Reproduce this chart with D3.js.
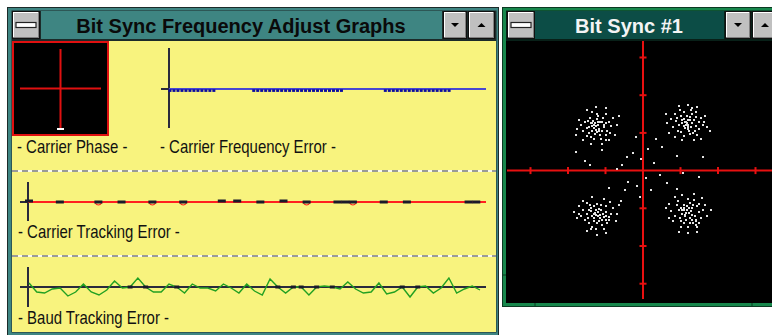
<!DOCTYPE html>
<html><head><meta charset="utf-8">
<script src="https://cdn.jsdelivr.net/npm/d3@7"></script>
<style>body{margin:0;background:#fff;}svg{display:block;}</style>
</head><body>
<script>
// ---------------- DATA ----------------
const leftTitle = "Bit Sync Frequency Adjust Graphs";
const rightTitle = "Bit Sync #1";
const panelLabels = ["- Carrier Phase -", "- Carrier Frequency Error -", "- Carrier Tracking Error -", "- Baud Tracking Error -"];

// carrier phase indicator (phase point, normalized)
const phasePoint = [0, -1];

// carrier frequency error samples
const freqErr = [-1,-1,-1,-1,-1,-1,-1,-1,-1,-1,-1,-1,
  0,0,0,0,0,0,0,0,0,
  -1,-1,-1,-1,-1,-1,-1,-1,-1,-1,-1,-1,-1,-1,-1,-1,-1,-1,-1,-1,-1,-1,-1,
  0,0,0,0,0,0,0,0,0,0,
  -1,-1,-1,-1,-1,-1,-1,-1,-1,-1,-1,-1,-1,-1,-1,-1,-1,
  0,0,0,0,0,0,0,0,0];

// carrier tracking error samples
const trackErr = [1,0,0,0,-1,0,0,0,0,-3,0,0,-1,0,0,0,-3,0,0,0,-3,0,0,0,0,1,0,1,0,0,
  -1,0,0,1,0,0,-3,0,0,0,-1,-1,-3,0,0,0,-1,0,0,-1,0,0,0,0,0,0,0,-1,-1,0];

// baud tracking error samples
const baudErr = [4,-5,-6,-2,-1,-9,-5,3,-5,-8,-3,6,-1,0,9,0,-5,-5,3,0,-6,3,-1,-1,-4,3,-1,-6,3,-4,
  -8,8,0,-6,0,0,-8,0,1,0,-2,5,-2,-6,-5,4,-7,-5,0,-10,0,1,-6,-1,9,-6,-2,1,-3];

// constellation ticks
const constTicks = [-3,-2,-1,1,2,3];
// constellation points (I, Q)
const constPts = [
 [-1.25,1.18],[-1.3,1.22],[-1.18,1.1],[-1.35,1.05],[-1.1,1.3],[-1.4,1.25],[-1.22,1.38],[-1.05,1.15],[-1.5,1.12],[-1.28,0.98],
 [-1.15,0.95],[-1.45,1.0],[-1.0,1.25],[-1.33,1.32],[-1.2,1.45],[-0.95,1.05],[-1.55,1.3],[-1.38,0.9],[-1.08,1.4],[-1.26,1.08],
 [-1.19,1.2],[-1.31,1.14],[-0.9,1.3],[-1.6,1.05],[-1.12,0.85],[-1.42,1.4],[-1.0,0.95],[-1.24,1.5],[-0.85,1.18],[-1.5,0.92],
 [-1.35,1.18],[-1.16,1.28],[-1.27,1.25],[-1.22,1.02],[-0.8,1.4],[-1.65,1.2],[-1.1,1.05],[-1.3,0.85],[-0.98,1.5],[-1.45,1.15],
 [-1.75,1.1],[-1.7,1.35],[-0.7,1.2],[-0.75,0.95],[-1.25,1.7],[-1.0,1.65],[-1.5,1.6],[-1.4,0.7],[-1.1,0.7],[-0.65,1.45],
 [-1.8,0.95],[-1.6,0.8],[-0.9,0.8],[-1.35,1.55],[-1.05,1.2],[-1.2,1.28],[-1.37,1.25],[-1.17,1.05],[-1.48,1.32],[-0.88,1.0],
 [1.15,1.3],[1.2,1.22],[1.1,1.38],[1.28,1.15],[1.05,1.25],[1.35,1.35],[1.18,1.45],[0.95,1.2],[1.42,1.18],[1.22,1.05],
 [1.0,1.45],[1.3,1.5],[1.12,1.12],[0.88,1.32],[1.48,1.28],[1.25,0.98],[1.08,1.55],[1.38,1.05],[0.8,1.15],[1.55,1.4],
 [1.17,1.27],[1.2,1.35],[1.14,1.2],[0.92,1.05],[1.45,0.95],[1.3,1.25],[1.02,1.02],[1.6,1.2],[0.75,1.38],[1.25,1.42],
 [1.1,0.92],[1.4,1.55],[0.98,1.6],[1.33,1.0],[1.19,1.15],[1.62,1.3],[1.05,1.35],[0.85,1.5],[1.5,1.1],[1.28,1.6],
 [1.7,1.15],[1.65,1.45],[0.65,1.25],[0.7,1.0],[1.2,1.75],[0.95,1.72],[1.45,1.7],[1.35,0.8],[1.05,0.82],[0.6,1.5],
 [1.78,1.05],[1.55,0.85],[0.85,0.9],[1.3,1.65],[1.2,1.1],[1.13,1.3],[1.24,1.33],[1.1,1.18],[1.42,1.42],[0.9,1.4],
 [-1.2,-1.1],[-1.25,-1.18],[-1.12,-1.05],[-1.35,-1.2],[-1.05,-1.22],[-1.4,-1.0],[-1.18,-1.35],[-0.98,-1.1],[-1.5,-1.15],[-1.3,-0.95],
 [-1.1,-1.45],[-1.45,-1.4],[-0.9,-1.3],[-1.6,-1.05],[-1.22,-0.88],[-1.0,-0.95],[-1.35,-1.5],[-1.15,-1.25],[-0.85,-1.15],[-1.55,-1.3],
 [-1.28,-1.12],[-1.2,-1.2],[-1.08,-1.15],[-1.42,-0.9],[-0.95,-1.4],[-1.3,-1.35],[-1.65,-1.2],[-1.12,-0.92],[-1.25,-1.55],[-0.8,-1.0],
 [-1.38,-1.08],[-1.05,-1.55],[-1.5,-0.85],[-1.18,-1.02],[-0.92,-1.22],[-1.48,-1.25],[-1.22,-1.4],[-1.32,-1.25],[-1.0,-1.3],[-1.7,-1.15],
 [-1.75,-1.25],[-1.7,-0.95],[-0.7,-1.15],[-0.72,-1.35],[-1.22,-1.7],[-0.98,-1.65],[-1.5,-1.6],[-1.35,-0.7],[-1.05,-0.75],[-0.65,-0.9],
 [-1.85,-1.1],[-1.6,-0.8],[-0.88,-0.82],[-1.4,-1.55],[-1.15,-1.18],[-1.25,-1.05],[-1.1,-1.3],[-1.3,-1.15],[-1.0,-1.2],[-1.45,-1.05],
 [1.17,-1.05],[1.22,-1.12],[1.1,-0.98],[1.3,-1.0],[1.05,-1.15],[1.38,-1.2],[1.15,-1.3],[0.95,-1.05],[1.45,-0.95],[1.25,-0.85],
 [1.0,-1.35],[1.32,-1.4],[1.08,-0.9],[0.85,-1.2],[1.5,-1.1],[1.2,-1.5],[0.9,-0.92],[1.42,-1.3],[1.12,-1.2],[1.28,-1.08],
 [1.35,-0.78],[1.18,-0.95],[0.8,-1.35],[1.55,-1.25],[1.02,-1.5],[1.4,-1.45],[1.25,-1.25],[0.92,-0.8],[1.1,-1.4],[1.48,-0.88],
 [1.3,-1.18],[1.2,-0.75],[0.75,-1.08],[1.6,-1.05],[1.15,-1.12],[1.33,-0.92],[0.98,-1.25],[1.45,-1.5],[1.08,-1.05],[1.25,-1.38],
 [1.7,-1.2],[1.65,-0.9],[0.68,-1.25],[0.7,-0.88],[1.2,-1.65],[0.95,-1.62],[1.45,-1.62],[1.35,-0.62],[1.05,-0.65],[0.62,-1.0],
 [1.8,-1.05],[1.58,-0.72],[0.85,-0.7],[1.4,-1.35],[1.22,-1.0],[1.13,-1.18],[1.05,-1.05],[1.3,-1.3],[1.0,-0.98],[1.5,-1.4],
 [-0.27,0.47],[-0.43,0.36],[-1.0,0.8],[-1.1,0.55],[-1.41,0.15],[-1.55,0.25],[-0.4,-0.3],[-0.48,-0.52],[-0.08,-0.7],[0.08,-0.2],
 [0.21,-0.52],[0.45,-0.12],[0.65,-0.33],[1.07,-0.07],[1.5,-0.18],[-0.7,0.05],[0.5,0.62],[0.35,0.85],[-0.2,0.9],[-0.55,0.15],
 [0.9,0.4],[1.6,0.35],[-0.9,-0.45],[-0.15,-0.4],[0.3,0.2],[-0.05,0.3],[0.9,-0.5],[-1.8,0.5],[-0.6,-0.8],[0.12,0.58]
];

// ---------------- DRAW ----------------
const W = 772, H = 335;
const svg = d3.select("body").append("svg").attr("width", W).attr("height", H);
svg.append("rect").attr("width", W).attr("height", H).attr("fill", "#fff");

const TEAL = "#3e8582", DTEAL = "#0c4d46", GREEN = "#17874c", YEL = "#f8f37e",
      GRAY = "#c0c0c0", AX = "#2a2a3c";
const FONT = "'Liberation Sans', Arial, sans-serif";

function button(x, y, w, h, kind) {
  const g = svg.append("g");
  g.append("rect").attr("x", x).attr("y", y).attr("width", w).attr("height", h).attr("fill", "#111");
  g.append("rect").attr("x", x + 1).attr("y", y + 1).attr("width", w - 2).attr("height", h - 2).attr("fill", "#808080");
  g.append("rect").attr("x", x + 1).attr("y", y + 1).attr("width", w - 3).attr("height", h - 3).attr("fill", "#fff");
  g.append("rect").attr("x", x + 2).attr("y", y + 2).attr("width", w - 4).attr("height", h - 4).attr("fill", GRAY);
  const cx = x + w / 2, cy = y + h / 2;
  if (kind === "down") g.append("path").attr("d", `M${cx-4},${cy-2}L${cx+4},${cy-2}L${cx},${cy+2}Z`).attr("fill", "#000");
  if (kind === "up") g.append("path").attr("d", `M${cx-4},${cy+2}L${cx+4},${cy+2}L${cx},${cy-2}Z`).attr("fill", "#000");
  if (kind === "sys") {
    g.append("rect").attr("x", cx - 10).attr("y", cy - 2.5).attr("width", 20).attr("height", 5)
      .attr("fill", "#fff").attr("stroke", "#222").attr("stroke-width", 1.2);
  }
}

// ---------- left window ----------
svg.append("rect").attr("x", 7.5).attr("y", 7.5).attr("width", 491).attr("height", 332).attr("fill", TEAL).attr("stroke", "#1c2b2a");
svg.append("rect").attr("x", 11.5).attr("y", 10.5).attr("width", 485).attr("height", 322).attr("fill", "#1c2b2a");
svg.append("rect").attr("x", 41).attr("y", 11).attr("width", 401).attr("height", 28).attr("fill", TEAL);
button(12, 11, 28, 28, "sys");
button(443, 11, 24, 28, "down");
button(468, 11, 27, 28, "up");
svg.append("text").attr("x", 241).attr("y", 33).attr("text-anchor", "middle")
  .attr("font-family", FONT).attr("font-weight", "bold").attr("font-size", 20).attr("fill", "#0a0a0a").text(leftTitle);
svg.append("rect").attr("x", 12).attr("y", 41).attr("width", 484).attr("height", 291).attr("fill", YEL);

// separators
[171, 256].forEach(yy => {
  svg.append("line").attr("x1", 12).attr("x2", 496).attr("y1", yy).attr("y2", yy).attr("stroke", "#fafaf0").attr("stroke-width", 2);
  svg.append("line").attr("x1", 12).attr("x2", 496).attr("y1", yy).attr("y2", yy).attr("stroke", "#9a9a98")
    .attr("stroke-width", 2).attr("stroke-dasharray", "6,4");
});

// labels
function label(x, y, t) {
  svg.append("text").attr("transform", `translate(${x},${y}) scale(0.83,1)`)
    .attr("font-family", FONT).attr("font-size", 18).attr("fill", "#111").text(t);
}
label(17, 153, panelLabels[0]);
label(160, 153, panelLabels[1]);
label(18, 238, panelLabels[2]);
label(18, 324, panelLabels[3]);

// ---- carrier phase ----
{
  const x = d3.scaleLinear([-1, 1], [20, 101]);
  const y = d3.scaleLinear([-1, 1], [128, 49]);
  svg.append("rect").attr("x", 13).attr("y", 42).attr("width", 95).attr("height", 93)
    .attr("fill", "#000").attr("stroke", "#e01010").attr("stroke-width", 2);
  svg.append("line").attr("x1", x(-1)).attr("x2", x(1)).attr("y1", y(0)).attr("y2", y(0)).attr("stroke", "#e01010").attr("stroke-width", 2);
  svg.append("line").attr("x1", x(0)).attr("x2", x(0)).attr("y1", y(1)).attr("y2", y(-1)).attr("stroke", "#e01010").attr("stroke-width", 2);
  svg.append("rect").attr("x", x(phasePoint[0]) - 3.5).attr("y", y(phasePoint[1])).attr("width", 7).attr("height", 2).attr("fill", "#fff");
}

// ---- carrier frequency error ----
{
  const x = d3.scaleLinear([0, freqErr.length - 1], [170, 485]);
  const y = d3.scaleLinear([-20, 20], [119, 59]);
  svg.append("line").attr("x1", 169).attr("x2", 169).attr("y1", 48).attr("y2", 128).attr("stroke", AX).attr("stroke-width", 2);
  svg.append("line").attr("x1", 161).attr("x2", 486).attr("y1", y(0)).attr("y2", y(0)).attr("stroke", AX).attr("stroke-width", 2);
  svg.append("line").attr("x1", 169).attr("x2", 486).attr("y1", y(0)).attr("y2", y(0)).attr("stroke", "#4848d0").attr("stroke-width", 2);
  svg.append("g").selectAll("rect").data(freqErr.map((v, i) => [i, v]).filter(d => d[1] !== 0)).join("rect")
    .attr("x", d => x(d[0]) - 1.5).attr("y", d => y(d[1]) - 1.2).attr("width", 3).attr("height", 2.6).attr("fill", "#0c0ca0");
}

// ---- carrier tracking error ----
{
  const x = d3.scaleLinear([0, trackErr.length - 1], [29, 484]);
  const y = d3.scaleLinear([-20, 20], [222, 182]);
  svg.append("line").attr("x1", 28).attr("x2", 28).attr("y1", 182).attr("y2", 221).attr("stroke", AX).attr("stroke-width", 2);
  svg.append("line").attr("x1", 20).attr("x2", 486).attr("y1", y(0)).attr("y2", y(0)).attr("stroke", AX).attr("stroke-width", 2);
  svg.append("line").attr("x1", 28).attr("x2", 486).attr("y1", y(0)).attr("y2", y(0)).attr("stroke", "#ff2020").attr("stroke-width", 2);
  const pts = trackErr.map((v, i) => [i, v]).filter(d => d[1] !== 0);
  svg.append("g").selectAll("path").data(pts.filter(d => d[1] < -1)).join("path")
    .attr("d", d => `M${x(d[0]) - 4},${y(0)} Q${x(d[0])},${y(d[1]) + 3} ${x(d[0]) + 4},${y(0)}`)
    .attr("fill", "none").attr("stroke", "#ff2020").attr("stroke-width", 1.2);
  svg.append("g").selectAll("rect").data(pts).join("rect")
    .attr("x", d => x(d[0]) - 4).attr("y", d => y(0) - 1.5 - (d[1] > 0 ? 1 : 0)).attr("width", 8).attr("height", 3).attr("fill", "#1a1a2a");
}

// ---- baud tracking error ----
{
  const x = d3.scaleLinear([0, baudErr.length - 1], [29, 480]);
  const y = d3.scaleLinear([-20, 20], [307, 267]);
  svg.append("line").attr("x1", 28).attr("x2", 28).attr("y1", 267).attr("y2", 307).attr("stroke", AX).attr("stroke-width", 2);
  svg.append("line").attr("x1", 20).attr("x2", 486).attr("y1", y(0)).attr("y2", y(0)).attr("stroke", AX).attr("stroke-width", 2);
  svg.append("path").datum(baudErr).attr("fill", "none").attr("stroke", "#22a022").attr("stroke-width", 1.4)
    .attr("d", d3.line().x((d, i) => x(i)).y(d => y(d)));
  svg.append("g").selectAll("rect").data(baudErr.map((v, i) => [i, v]).filter(d => d[1] === 0)).join("rect")
    .attr("x", d => x(d[0]) - 2.5).attr("y", y(0) - 1.5).attr("width", 5).attr("height", 3).attr("fill", "#1a1a2a");
}

// ---------- right window ----------
svg.append("rect").attr("x", 502.5).attr("y", 7.5).attr("width", 280).attr("height", 299).attr("fill", GREEN).attr("stroke", "#0c3a22");
svg.append("rect").attr("x", 506).attr("y", 10.5).attr("width", 270).attr("height", 292.5).attr("fill", "#082018");
svg.append("rect").attr("x", 535).attr("y", 11).attr("width", 189).attr("height", 28).attr("fill", DTEAL);
button(507, 11, 28, 28, "sys");
button(725, 11, 26, 28, "down");
button(752, 11, 26, 28, "up");
svg.append("text").attr("x", 629).attr("y", 33).attr("text-anchor", "middle")
  .attr("font-family", FONT).attr("font-weight", "bold").attr("font-size", 20).attr("fill", "#f4f4f4").text(rightTitle);
svg.append("rect").attr("x", 506).attr("y", 41).attr("width", 270).attr("height", 262).attr("fill", "#000");
// frame notches
[[535, 303, 535, 307], [752, 303, 752, 307], [502, 275, 506, 275]].forEach(l =>
  svg.append("line").attr("x1", l[0]).attr("y1", l[1]).attr("x2", l[2]).attr("y2", l[3]).attr("stroke", "#0c3a22"));

{
  const x = d3.scaleLinear([-3, 3], [530.5, 755.5]);
  const y = d3.scaleLinear([-3, 3], [283.7, 57.5]);
  const RED = "#e81010";
  svg.append("line").attr("x1", 507).attr("x2", 772).attr("y1", y(0)).attr("y2", y(0)).attr("stroke", RED).attr("stroke-width", 2);
  svg.append("line").attr("x1", x(0)).attr("x2", x(0)).attr("y1", 41).attr("y2", 299).attr("stroke", RED).attr("stroke-width", 2);
  svg.append("g").selectAll("line").data(constTicks).join("line")
    .attr("x1", d => x(d)).attr("x2", d => x(d)).attr("y1", y(0) - 3.5).attr("y2", y(0) + 3.5).attr("stroke", RED).attr("stroke-width", 2);
  svg.append("g").selectAll("line").data(constTicks).join("line")
    .attr("x1", x(0) - 3.5).attr("x2", x(0) + 3.5).attr("y1", d => y(d)).attr("y2", d => y(d)).attr("stroke", RED).attr("stroke-width", 2);
  svg.append("g").selectAll("rect").data(constPts).join("rect")
    .attr("x", d => Math.round(x(d[0])) - 1).attr("y", d => Math.round(y(d[1])) - 1)
    .attr("width", 2).attr("height", 2).attr("fill", "#e4e4e4");
}
</script>
</body></html>
